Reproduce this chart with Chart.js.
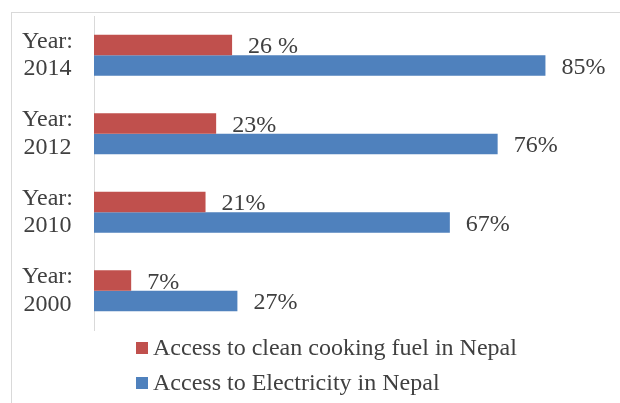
<!DOCTYPE html>
<html>
<head>
<meta charset="utf-8">
<script src="https://cdn.jsdelivr.net/npm/chart.js@4.4.0/dist/chart.umd.min.js"></script>
<style>
  html, body { margin: 0; padding: 0; background: #fff; }
  #wrap { position: relative; width: 620px; height: 403px; overflow: hidden; }
  #frame { position: absolute; left: 11px; top: 12px; width: 700px; height: 500px;
           border-left: 1px solid #d9d9d9; border-top: 1px solid #d9d9d9; }
  #chart { position: absolute; left: 0; top: 0; }
  #legend { position: absolute; left: 136px; top: 330px; font-family: "Liberation Serif", "Times New Roman", serif;
            font-size: 24px; color: #404040; }
  #legend .row { display: flex; align-items: center; height: 35px; }
  #legend .box { width: 12px; height: 12px; margin-right: 5px; }
</style>
</head>
<body>
<div id="wrap">
  <div id="frame"></div>
  <canvas id="chart" width="620" height="403"></canvas>
  <div id="legend"></div>
</div>
<script>
// data
var years = ['2014', '2012', '2010', '2000'];
var cookingFuel = [26, 23, 21, 7];
var electricity = [85, 76, 67, 27];
var cookingLabels = ['26 %', '23%', '21%', '7%'];
var electricityLabels = ['85%', '76%', '67%', '27%'];

var textColor = '#404040';
var serif = '"Liberation Serif", "Times New Roman", serif';

// draws the value next to the end of every bar
var barValues = {
  id: 'barValues',
  afterDatasetsDraw: function (chart) {
    var ctx = chart.ctx;
    ctx.save();
    ctx.font = '24px ' + serif;
    ctx.fillStyle = textColor;
    ctx.textAlign = 'left';
    ctx.textBaseline = 'middle';
    chart.data.datasets.forEach(function (ds, i) {
      var meta = chart.getDatasetMeta(i);
      meta.data.forEach(function (bar, j) {
        ctx.fillText(ds.valueLabels[j], bar.x + 16, bar.y + 2);
      });
    });
    ctx.restore();
  }
};

var ctx = document.getElementById('chart').getContext('2d');
var chart = new Chart(ctx, {
  type: 'bar',
  data: {
    labels: years.map(function (y) { return ['Year:', y]; }),
    datasets: [{
      label: 'Access to clean cooking fuel in Nepal',
      data: cookingFuel,
      valueLabels: cookingLabels,
      backgroundColor: '#c0504d',
      borderWidth: 0,
      categoryPercentage: 0.522,
      barPercentage: 1
    }, {
      label: 'Access to Electricity in Nepal',
      data: electricity,
      valueLabels: electricityLabels,
      backgroundColor: '#4f81bd',
      borderWidth: 0,
      categoryPercentage: 0.522,
      barPercentage: 1
    }]
  },
  options: {
    indexAxis: 'y',
    responsive: false,
    animation: false,
    layout: {
      padding: { left: 0, top: 16, right: 48, bottom: 73 }
    },
    plugins: {
      legend: { display: false },
      tooltip: { enabled: false }
    },
    scales: {
      x: {
        display: false,
        min: 0,
        max: 90
      },
      y: {
        afterFit: function (scale) {
          scale.width = 94;
          // labels are multi-line, don't let them push the plot area
          scale.paddingTop = 0;
          scale.paddingBottom = 0;
        },
        grid: { display: false, drawTicks: false },
        border: { display: true, color: '#d9d9d9', width: 1 },
        ticks: {
          crossAlign: 'center',
          padding: 21,
          color: textColor,
          font: { family: serif, size: 24, lineHeight: 1.13 }
        }
      }
    }
  },
  plugins: [barValues]
});

// html legend, one item per row
var legendEl = document.getElementById('legend');
chart.data.datasets.forEach(function (ds) {
  var row = document.createElement('div');
  row.className = 'row';
  var box = document.createElement('span');
  box.className = 'box';
  box.style.background = ds.backgroundColor;
  var txt = document.createElement('span');
  txt.textContent = ds.label;
  row.appendChild(box);
  row.appendChild(txt);
  legendEl.appendChild(row);
});
</script>
</body>
</html>
